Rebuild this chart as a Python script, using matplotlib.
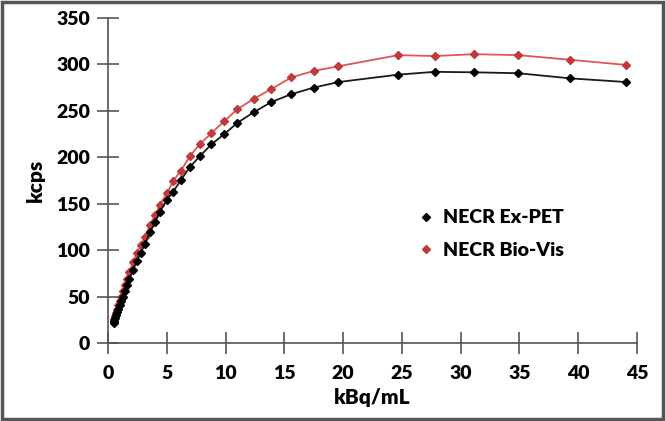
import matplotlib
matplotlib.use("Agg")
import matplotlib.pyplot as plt
from matplotlib.patches import Rectangle
from matplotlib.lines import Line2D

plt.rcParams['font.family'] = ['Lato', 'DejaVu Sans']

activity = [44.1, 39.3, 34.9, 31.1, 27.8, 24.7, 19.6, 17.5, 15.6, 13.9, 12.4, 11.0,
            9.9, 8.8, 7.8, 7.0, 6.2, 5.55, 5.0, 4.4, 4.0, 3.57, 3.15, 2.78, 2.44, 2.15,
            1.81, 1.6, 1.42, 1.26, 1.12, 1.0, 0.88, 0.78, 0.7, 0.62, 0.55, 0.48]
necr_expet = [281, 285, 290.5, 291.5, 292, 289, 281, 275, 268, 259.5, 248.5, 237,
              225, 214, 201, 190, 175.5, 163, 154, 141, 130, 119, 107, 97, 88, 79,
              69, 62, 56, 50, 45, 41, 37, 33, 30, 27, 24, 21]
necr_biovis = [299.4, 305, 310, 311, 309, 310, 298, 293, 286, 273.5, 263, 251.7,
               239, 226, 214, 201.7, 185.5, 174.5, 161, 148.6, 137.8, 127, 114.5, 105.5,
               96.5, 87.5, 76.8, 69, 62, 56, 50, 45, 41, 36, 32, 29, 26, 23]
series_names = ['NECR Ex-PET', 'NECR Bio-Vis']
x_ticks = [0, 5, 10, 15, 20, 25, 30, 35, 40, 45]
y_ticks = [0, 50, 100, 150, 200, 250, 300, 350]

fig = plt.figure(figsize=(6.65, 4.21), dpi=100)
ax = fig.add_axes([0.1624, 0.1853, 0.7955, 0.772])

ax.plot(activity, necr_expet, color='#1a1a1a', lw=1.3, marker='D', ms=4.5,
        mfc='black', mec='black', zorder=3)
ax.plot(activity, necr_biovis, color='#e05555', lw=1.3, marker='D', ms=4.5,
        mfc='#c0393b', mec='#c0393b', zorder=2)

ax.set_xlim(0, 45)
ax.set_ylim(0, 350)
ax.set_xticks(x_ticks)
ax.set_yticks(y_ticks)
for s in ['top', 'right']:
    ax.spines[s].set_visible(False)
for s in ['left', 'bottom']:
    ax.spines[s].set_color('#555555')
    ax.spines[s].set_linewidth(1.2)
ax.tick_params(direction='inout', length=16, width=1.2, color='#555555',
               labelsize=14)
ax.tick_params(axis='y', pad=5)
ax.tick_params(axis='x', pad=8)
for lab in ax.get_xticklabels() + ax.get_yticklabels():
    lab.set_fontweight('heavy')
ax.set_xlabel('kBq/mL', fontsize=15, fontweight='heavy', labelpad=4)
ax.set_ylabel('kcps', fontsize=15, fontweight='heavy', labelpad=8)

handles = [Line2D([], [], ls='none', marker='D', ms=4, color='black'),
           Line2D([], [], ls='none', marker='D', ms=4, color='#c0393b')]
leg = ax.legend(handles, series_names, loc='center left', bbox_to_anchor=(0.553, 0.335),
                frameon=False, handlelength=0.8, handletextpad=0.5, labelspacing=0.8,
                prop={'weight': 'heavy', 'size': 14})

fig.patches.append(Rectangle((0.003, 0.005), 0.994, 0.99, transform=fig.transFigure,
                             fill=False, edgecolor='#555555', lw=2.5))

fig.savefig('out.png', dpi=100)
